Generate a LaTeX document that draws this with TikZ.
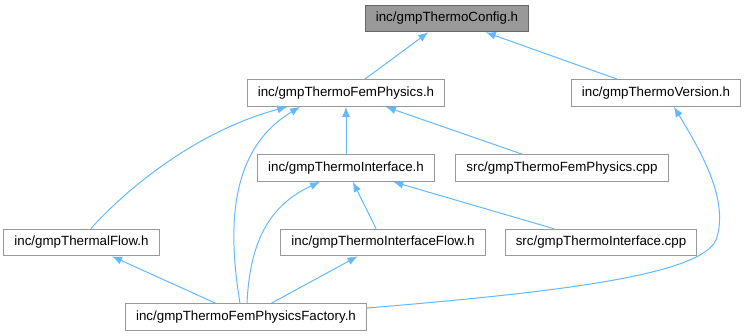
\documentclass[tikz,border=0pt]{standalone}
\usepackage{fontspec}
\setmainfont{Liberation Sans}
\usetikzlibrary{arrows.meta,positioning}
\definecolor{edgeblue}{HTML}{63B8FF}
\definecolor{boxline}{HTML}{999999}
\definecolor{titlefill}{HTML}{999999}
\definecolor{titleline}{HTML}{666666}

\begin{document}
\begin{tikzpicture}[x=0.75pt, y=-0.75pt,
        file/.style={draw=boxline, line width=0.75pt, fill=white, rectangle, minimum height=20pt, inner xsep=8pt, font=\fontsize{10}{12}\selectfont},
        edge/.style={draw=edgeblue, line width=0.75pt, -{Latex[length=7.5pt,width=6pt]}}]
        \useasboundingbox (0,0) rectangle (744,336);

        \node[file, fill=titlefill, draw=titleline] (config) at (447,18.5) {inc/gmpThermoConfig.h};
        \node[file] (femphys) at (346,93) {inc/gmpThermoFemPhysics.h};
        \node[file] (version) at (656,93) {inc/gmpThermoVersion.h};
        \node[file] (iface) at (346,168) {inc/gmpThermoInterface.h};
        \node[file] (femcpp) at (562,168) {src/gmpThermoFemPhysics.cpp};
        \node[file] (tflow) at (81.5,242.5) {inc/gmpThermalFlow.h};
        \node[file] (iflow) at (383,242.5) {inc/gmpThermoInterfaceFlow.h};
        \node[file] (ifacecpp) at (601,242.5) {src/gmpThermoInterface.cpp};
        \node[file] (factory) at (246,317) {inc/gmpThermoFemPhysicsFactory.h};

        \draw[edge] (femphys) -- (config);
        \draw[edge] (version) -- (config);
        \draw[edge] ([xshift=7pt]tflow.north) .. controls (130,185) and (200,130) .. ([xshift=-44pt]femphys.south);
        \draw[edge] ([xshift=-4.5pt]factory.north) .. controls (228,230) and (228,150) .. ([xshift=-34.5pt]femphys.south);
        \draw[edge] (iface) -- (femphys);
        \draw[edge] (femcpp) -- (femphys);
        \draw[edge] ([yshift=6.75pt]factory.east) .. controls (560,292) and (700,275) .. (716,240)
                .. controls (730,200) and (700,150) .. ([xshift=13.5pt]version.south);
        \draw[edge] ([xshift=0.75pt]factory.north) .. controls (250,240) and (270,205) .. ([xshift=-19.5pt]iface.south);
        \draw[edge] (iflow) -- (iface);
        \draw[edge] (ifacecpp) -- (iface);
        \draw[edge] (factory) -- (tflow);
        \draw[edge] (factory) -- (iflow);
\end{tikzpicture}
\end{document}
